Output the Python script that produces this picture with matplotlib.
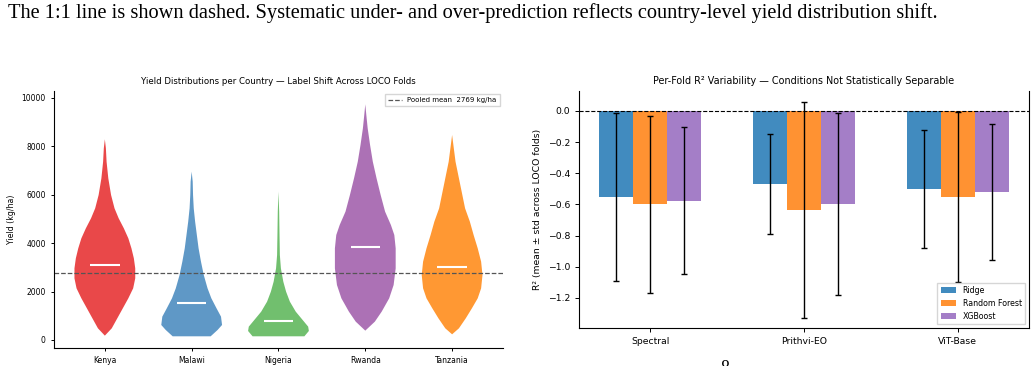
import numpy as np
import matplotlib
matplotlib.use("Agg")
import matplotlib.pyplot as plt
from matplotlib.lines import Line2D

# ---- data ----
countries = ["Kenya", "Malawi", "Nigeria", "Rwanda", "Tanzania"]
n_obs = ["1,296", "1,552", "955", "1,130", "1,263"]
means = [3278, 1918, 1256, 3893, 3255]
medians = [3100, 1540, 800, 3855, 3030]
pooled_mean = 2769
vcolors = ["#e41a1c", "#377eb8", "#4daf4a", "#984ea3", "#ff7f00"]

# violin outlines: yield level (kg/ha) -> relative half width
kenya_y = [179, 482, 895, 1309, 1722, 2135, 2548, 2961, 3375, 3788, 4201, 4614,
           5028, 5441, 5992, 6681, 7369, 7920, 8292]
kenya_w = [0, 20, 36, 52, 68, 82, 88, 88, 84, 77, 68, 55, 40, 28, 18, 10, 5, 3, 0]
malawi_y = [152, 413, 620, 964, 1309, 1722, 2135, 2686, 3237, 3788, 4339, 4890,
            5441, 5992, 6543, 6956]
malawi_w = [55, 75, 88, 85, 72, 57, 46, 35, 27, 20, 15, 10, 6, 4, 3, 0]
nigeria_y = [152, 372, 551, 826, 1171, 1584, 1997, 2410, 2961, 3512, 4339, 5303, 6129]
nigeria_w = [75, 88, 86, 70, 50, 33, 22, 14, 7, 4, 3, 2, 0]
rwanda_y = [386, 758, 1171, 1722, 2273, 2961, 3788, 4339, 4752, 5303, 5992, 6680,
            7369, 8058, 8747, 9298, 9738]
rwanda_w = [0, 28, 48, 70, 83, 89, 89, 85, 75, 58, 45, 33, 22, 14, 7, 3, 0]
tanzania_y = [234, 482, 895, 1309, 1722, 2135, 2686, 3237, 3788, 4339, 4890, 5441,
              5992, 6680, 7369, 7920, 8471]
tanzania_w = [0, 20, 40, 58, 75, 85, 89, 85, 75, 63, 52, 38, 30, 20, 10, 5, 0]

profiles_y = [kenya_y, malawi_y, nigeria_y, rwanda_y, tanzania_y]
profiles_w = [kenya_w, malawi_w, nigeria_w, rwanda_w, tanzania_w]

features = ["Spectral", "Prithvi-EO", "ViT-Base"]
models = ["Ridge", "Random Forest", "XGBoost"]
r2_mean = {
    "Ridge": [-0.55, -0.47, -0.50],
    "Random Forest": [-0.60, -0.635, -0.55],
    "XGBoost": [-0.575, -0.595, -0.52],
}
r2_std = {
    "Ridge": [0.54, 0.32, 0.38],
    "Random Forest": [0.567, 0.695, 0.545],
    "XGBoost": [0.47, 0.585, 0.435],
}
bar_colors = ["#1f77b4", "#ff7f0e", "#9467bd"]

fig = plt.figure(figsize=(10.36, 3.66), dpi=100)

# caption text from the page
fig.text(0.008, 0.965, "The 1:1 line is shown dashed. Systematic under- and over-prediction "
         "reflects country-level yield distribution shift.",
         family="Liberation Serif", fontsize=14.7, va="center", ha="left")
fig.text(0.70, -0.008, "8", family="Liberation Serif", fontsize=13, ha="center", va="center")

# ---- left: violins ----
ax1 = fig.add_axes([0.0521, 0.0492, 0.4334, 0.7022])
pos = np.arange(len(countries))
stats = []
for i in range(len(countries)):
    stats.append({"coords": np.array(profiles_y[i]), "vals": np.array(profiles_w[i], float),
                  "mean": means[i], "median": medians[i],
                  "min": profiles_y[i][0], "max": profiles_y[i][-1]})
parts = ax1.violin(stats, positions=pos, widths=0.7, showmeans=False,
                   showextrema=False, showmedians=False)
for body, c in zip(parts["bodies"], vcolors):
    body.set_facecolor(c)
    body.set_edgecolor("none")
    body.set_alpha(0.8)
ax1.hlines(medians, pos - 0.17, pos + 0.17, colors="white", lw=1.5, zorder=3)
ax1.axhline(pooled_mean, color="#555555", ls="--", lw=0.9)
ax1.legend([Line2D([], [], color="#555555", ls="--", lw=0.9)],
           [f"Pooled mean  {pooled_mean} kg/ha"], loc="upper right", fontsize=5,
           fancybox=False, handlelength=2)
ax1.set_xticks(pos)
ax1.set_xticklabels([f"{c}\nn={n}  \u03bc={m}" for c, n, m in zip(countries, n_obs, means)])
ax1.set_xlim(-0.586, 4.586)
ax1.set_ylim(-331, 10289)
ax1.set_ylabel("Yield (kg/ha)", fontsize=5.6)
ax1.set_title("Yield Distributions per Country \u2014 Label Shift Across LOCO Folds",
              fontsize=6.25, pad=5)
ax1.tick_params(labelsize=5.5, length=2.5, width=0.7)
for s in ["top", "right"]:
    ax1.spines[s].set_visible(False)

# ---- right: grouped bars ----
ax2 = fig.add_axes([0.5589, 0.1038, 0.4343, 0.6475])
x = np.arange(len(features))
bw = 0.22
for k, (m, c) in enumerate(zip(models, bar_colors)):
    ax2.bar(x + (k - 1) * bw, r2_mean[m], bw, yerr=r2_std[m], color=c, alpha=0.85,
            label=m, capsize=2.5, error_kw={"elinewidth": 1, "capthick": 1, "ecolor": "black"})
ax2.axhline(0, color="black", ls="--", lw=0.8)
ax2.set_xticks(x)
ax2.set_xticklabels(features)
ax2.set_ylim(-1.393, 0.128)
ax2.set_ylabel("R\u00b2 (mean \u00b1 std across LOCO folds)", fontsize=6.7)
ax2.set_title("Per-Fold R\u00b2 Variability \u2014 Conditions Not Statistically Separable",
              fontsize=6.9, pad=5)
ax2.tick_params(labelsize=6.7, length=3, width=0.7)
ax2.spines["top"].set_visible(False)
ax2.legend(loc="lower right", fontsize=5.7, fancybox=False)

fig.savefig("out.png", dpi=100)
